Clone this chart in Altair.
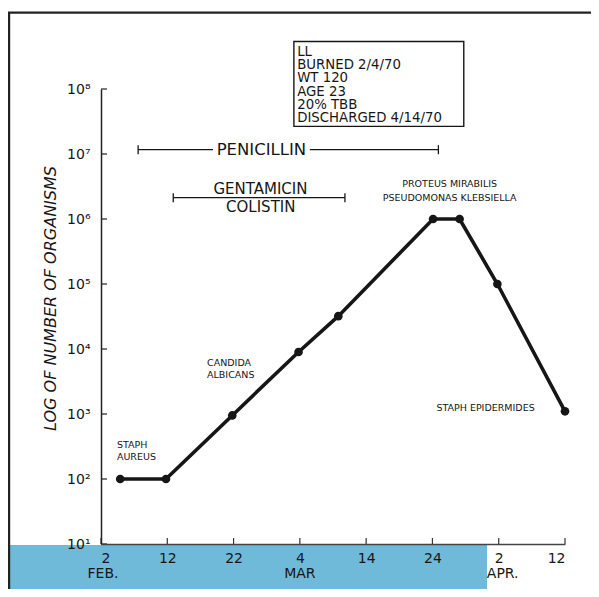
import altair as alt
import pandas as pd

# ---- data ----
days = [2.9, 9.8, 19.8, 29.8, 35.8, 50.1, 54.1, 59.8, 70.0]          # days after Feb 2
organisms = [100, 100, 950, 9000, 32000, 1000000, 1000000, 100000, 1100]

x_tick_values = [0, 10, 20, 30, 40, 50, 60, 70]
x_tick_labels = ["2", "12", "22", "4", "14", "24", "2", "12"]
month_names = ["FEB.", "MAR", "APR."]
month_days = [0.3, 30.0, 60.6]
y_tick_values = [1e1, 1e2, 1e3, 1e4, 1e5, 1e6, 1e7, 1e8]
superscripts = ["⁰", "¹", "²", "³", "⁴", "⁵", "⁶", "⁷", "⁸"]

pen_name = ["PENICILLIN"]
pen_label_day = [24.2]
pen_label_count = [1.164e7]
drug_names = ["GENTAMICIN", "COLISTIN"]
drug_label_days = [24.05, 24.1]
drug_label_counts = [2.92e6, 1.545e6]
bar_starts = [5.6, 31.5, 10.9]
bar_ends = [16.9, 50.9, 36.8]
bar_counts = [1.164e7, 1.164e7, 2.13e6]
cap_days = [5.6, 50.9, 10.9, 36.8]
cap_counts = [1.164e7, 1.164e7, 2.13e6, 2.13e6]

left_labels = ["STAPH\nAUREUS", "CANDIDA\nALBICANS", "STAPH EPIDERMIDES"]
left_label_days = [2.4, 16.0, 50.6]
left_label_counts = [329, 6095, 1250]
center_labels = ["PROTEUS MIRABILIS\nPSEUDOMONAS KLEBSIELLA"]
center_label_days = [52.6]
center_label_counts = [3.45e6]

box_lines = ["LL", "BURNED 2/4/70", "WT 120", "AGE 23", "20% TBB", "DISCHARGED 4/14/70"]
box_day_range = [29.1, 54.73]
box_count_range = [2.66e7, 5.39e8]
box_text_day = 29.6
box_text_count = 3.75e8

INK = "#161616"
FONT = "DejaVu Sans"

xs = alt.Scale(domain=[0, 70], nice=False, zero=False)
ys = alt.Scale(type="log", domain=[10, 1e8], nice=False)

sup_js = "[" + ",".join("'" + s + "'" for s in superscripts) + "]"
xlab_js = "[" + ",".join("'" + s + "'" for s in x_tick_labels) + "]"

xaxis = alt.Axis(
    values=x_tick_values, labelExpr=xlab_js + "[round(datum.value/10)]",
    ticks=False, grid=False, domainColor="#444", domainWidth=1.5,
    labelFont=FONT, labelFontSize=14, labelColor=INK, labelPadding=7,
    title=None, zindex=1)
yaxis = alt.Axis(
    values=y_tick_values,
    labelExpr="'10' + " + sup_js + "[round(log(datum.value)/LN10)]",
    ticks=False, grid=False, domainColor="#222", domainWidth=1.5,
    labelFont=FONT, labelFontSize=14, labelColor=INK, labelPadding=11,
    title="LOG OF NUMBER OF ORGANISMS", titleFont=FONT, titleFontSize=16,
    titleFontStyle="italic", titleFontWeight="normal", titleColor=INK,
    titleX=-51, titleY=209, titleBaseline="middle", zindex=1)


def X(f):
    return alt.X(f, scale=xs, axis=xaxis)


def Y(f):
    return alt.Y(f, scale=ys, axis=yaxis)


one = pd.DataFrame({"a": [0]})

# decorative page background band and frame lines
band = alt.Chart(one).mark_rect(color="#6fb9d9").encode(
    x=alt.value(-93), x2=alt.value(386), y=alt.value(456), y2=alt.value(520))
left_border = alt.Chart(one).mark_rule(color="#222", strokeWidth=2.4).encode(
    x=alt.value(-92), y=alt.value(-77), y2=alt.value(520))
top_border = alt.Chart(one).mark_rule(color="#222", strokeWidth=2.4).encode(
    x=alt.value(-93), x2=alt.value(500), y=alt.value(-76.4))

df = pd.DataFrame({"day": days, "count": organisms})
line = alt.Chart(df).mark_line(color=INK, strokeWidth=3.6).encode(x=X("day:Q"), y=Y("count:Q"))
points = alt.Chart(df).mark_point(filled=True, size=75, color=INK, opacity=1).encode(
    x=X("day:Q"), y=Y("count:Q"))

# inward ticks
xt = alt.Chart(pd.DataFrame({"day": x_tick_values})).mark_rule(color="#333", strokeWidth=1.2).encode(
    x=X("day:Q"), y=alt.value(455), y2=alt.value(449))
yt = alt.Chart(pd.DataFrame({"count": y_tick_values})).mark_rule(color="#222", strokeWidth=1.2).encode(
    y=Y("count:Q"), x=alt.value(0), x2=alt.value(6))

months = alt.Chart(pd.DataFrame({"m": month_names, "day": month_days})).mark_text(
    font=FONT, fontSize=14, color=INK, baseline="middle", align="center").encode(
    x=X("day:Q"), y=alt.value(485), text="m:N")

# drug bars
bars = alt.Chart(pd.DataFrame({"day": bar_starts, "e": bar_ends, "count": bar_counts})).mark_rule(
    color=INK, strokeWidth=1.3).encode(x=X("day:Q"), x2="e:Q", y=Y("count:Q"))
caps = alt.Chart(pd.DataFrame({"day": cap_days, "count": cap_counts})).mark_tick(
    orient="vertical", size=9, thickness=1.3, color=INK, opacity=1).encode(
    x=X("day:Q"), y=Y("count:Q"))
pen_text = alt.Chart(pd.DataFrame({"n": pen_name, "day": pen_label_day, "count": pen_label_count})).mark_text(
    font=FONT, fontSize=16.5, color=INK, align="center", baseline="middle").encode(
    x=X("day:Q"), y=Y("count:Q"), text="n:N")
drug_text = alt.Chart(pd.DataFrame({"n": drug_names, "day": drug_label_days, "count": drug_label_counts})).mark_text(
    font=FONT, fontSize=15, color=INK, align="center", baseline="middle").encode(
    x=X("day:Q"), y=Y("count:Q"), text="n:N")

org_left = alt.Chart(pd.DataFrame({"n": left_labels, "day": left_label_days, "count": left_label_counts})).mark_text(
    font=FONT, fontSize=9.5, color=INK, align="left", baseline="middle", lineBreak="\n",
    lineHeight=12).encode(x=X("day:Q"), y=Y("count:Q"), text="n:N")
org_center = alt.Chart(pd.DataFrame({"n": center_labels, "day": center_label_days, "count": center_label_counts})).mark_text(
    font=FONT, fontSize=9.5, color=INK, align="center", baseline="middle", lineBreak="\n",
    lineHeight=14).encode(x=X("day:Q"), y=Y("count:Q"), text="n:N")

box = alt.Chart(pd.DataFrame({"day": [box_day_range[0]], "x1": [box_day_range[1]],
                              "count": [box_count_range[0]], "y1": [box_count_range[1]]})).mark_rect(
    fillOpacity=0, stroke=INK, strokeWidth=1.4).encode(
    x=X("day:Q"), x2="x1:Q", y=Y("count:Q"), y2="y1:Q")
box_text = alt.Chart(pd.DataFrame({"t": ["\n".join(box_lines)], "day": [box_text_day], "count": [box_text_count]})).mark_text(
    font=FONT, fontSize=13.3, color=INK, align="left", baseline="middle", lineBreak="\n",
    lineHeight=13.35).encode(x=X("day:Q"), y=Y("count:Q"), text="t:N")

chart = alt.layer(
    band, left_border, top_border, line, points, xt, yt, months,
    bars, caps, pen_text, drug_text, org_left, org_center, box, box_text
).properties(
    width=464, height=455,
    padding={"left": 93, "top": 81, "right": 26, "bottom": 45},
    autosize=alt.AutoSizeParams(type="none"),
    background="white",
).configure_view(strokeWidth=0)

chart.save("out.html", embed_options={"renderer": "svg", "actions": False})
